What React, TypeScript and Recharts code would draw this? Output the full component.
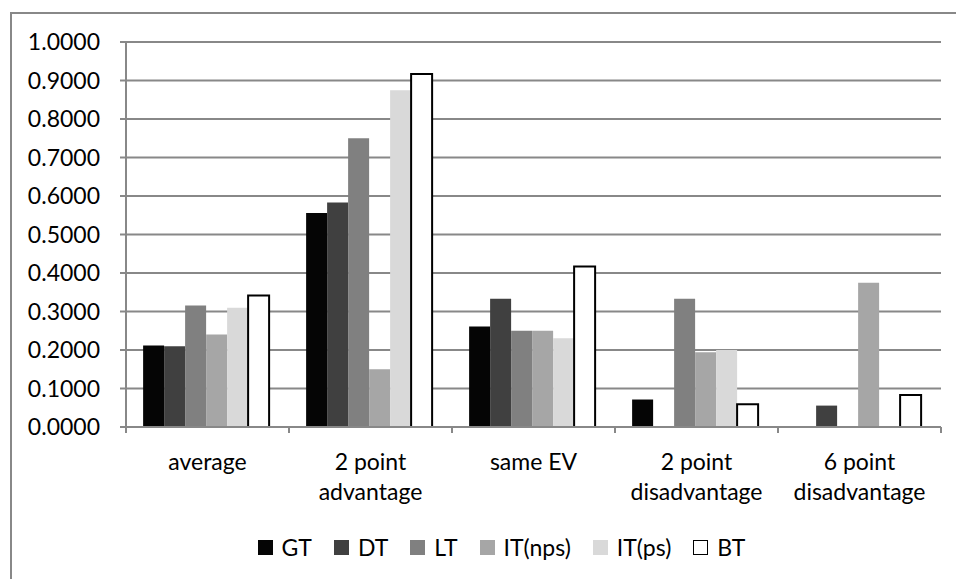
import { BarChart, Bar, XAxis, YAxis, CartesianGrid, Legend } from "recharts";

const categories = ["average", "2 point\nadvantage", "same EV", "2 point\ndisadvantage", "6 point\ndisadvantage"];
const gt = [0.2115, 0.5556, 0.2609, 0.0714, 0];
const dt = [0.2100, 0.5833, 0.3333, 0, 0.0556];
const lt = [0.3158, 0.7500, 0.2500, 0.3333, 0];
const itNps = [0.2404, 0.1500, 0.2500, 0.1944, 0.3750];
const itPs = [0.3100, 0.8750, 0.2308, 0.2000, 0];
const bt = [0.3417, 0.9167, 0.4167, 0.0588, 0.0833];
const yTicks = [0, 0.1, 0.2, 0.3, 0.4, 0.5, 0.6, 0.7, 0.8, 0.9, 1.0];

const series = [
    { key: "GT", values: gt, fill: "#050505", stroke: "none" },
    { key: "DT", values: dt, fill: "#404040", stroke: "none" },
    { key: "LT", values: lt, fill: "#808080", stroke: "none" },
    { key: "IT(nps)", values: itNps, fill: "#a6a6a6", stroke: "none" },
    { key: "IT(ps)", values: itPs, fill: "#d9d9d9", stroke: "none" },
    { key: "BT", values: bt, fill: "#ffffff", stroke: "#000000" },
];

const data = categories.map((name, i) => {
    const row: Record<string, string | number> = { name };
    series.forEach((s) => (row[s.key] = s.values[i]));
    return row;
});

const FONT = "Lato, 'Open Sans', sans-serif";
const GRID = "#888888";

const CategoryTick = (props: any) => {
    const { x, y, payload, index, visibleTicksCount } = props;
    const half = payload.offset || 81.5;
    const lines = String(payload.value).split("\n");
    return (
        <g>
            <line x1={x - half} x2={x - half} y1={y - 8} y2={y - 2} stroke={GRID} strokeWidth={2} />
            {index === visibleTicksCount - 1 && (
                <line x1={x + half} x2={x + half} y1={y - 8} y2={y - 2} stroke={GRID} strokeWidth={2} />
            )}
            <text x={x} y={y} textAnchor="middle" fontSize={23} fill="#000" fontFamily={FONT}>
                {lines.map((l, i) => (
                    <tspan key={i} x={x} dy={i === 0 ? 35 : 30}>
                        {l}
                    </tspan>
                ))}
            </text>
        </g>
    );
};

const LegendContent = () => (
    <div
        style={{
            display: "flex",
            justifyContent: "center",
            alignItems: "center",
            height: 40,
            paddingLeft: 62,
            fontFamily: FONT,
            fontSize: 23,
        }}
    >
        {series.map((s) => (
            <div key={s.key} style={{ display: "flex", alignItems: "center", margin: "0 11px" }}>
                <span
                    style={{
                        display: "inline-block",
                        width: s.stroke === "none" ? 15 : 13,
                        height: s.stroke === "none" ? 15 : 13,
                        background: s.fill,
                        border: s.stroke === "none" ? "none" : "1px solid #000",
                        marginRight: 9,
                    }}
                />
                <span>{s.key}</span>
            </div>
        ))}
    </div>
);

const App = () => {
    return (
        <div style={{ position: "absolute", left: 0, top: 0, width: 956, height: 579, overflow: "hidden", background: "#fff" }}>
            <div
                style={{
                    position: "absolute",
                    left: 10,
                    top: 12,
                    width: 960,
                    height: 600,
                    borderLeft: `2px solid ${GRID}`,
                    borderTop: `2px solid ${GRID}`,
                    boxSizing: "border-box",
                }}
            />
            <div style={{ position: "absolute", left: 0, top: 0 }}>
                <BarChart
                    width={956}
                    height={579}
                    data={data}
                    margin={{ top: 42, right: 15, bottom: 12, left: 0 }}
                    barCategoryGap="10.5%"
                    barGap={0}
                >
                    <CartesianGrid vertical={false} stroke={GRID} strokeWidth={2} />
                    <XAxis
                        dataKey="name"
                        height={100}
                        axisLine={{ stroke: GRID, strokeWidth: 2 }}
                        tickLine={false}
                        interval={0}
                        tick={<CategoryTick />}
                    />
                    <YAxis
                        width={126}
                        domain={[0, 1]}
                        ticks={yTicks}
                        interval={0}
                        axisLine={{ stroke: GRID, strokeWidth: 2 }}
                        tickLine={{ stroke: GRID, strokeWidth: 2 }}
                        tickSize={6}
                        tickMargin={20}
                        tick={{ fill: "#000", fontSize: 23, fontFamily: FONT }}
                        tickFormatter={(v: number) => v.toFixed(4)}
                    />
                    <Legend verticalAlign="bottom" height={40} content={<LegendContent />} />
                    {series.map((s) => (
                        <Bar
                            key={s.key}
                            dataKey={s.key}
                            fill={s.fill}
                            stroke={s.stroke}
                            strokeWidth={s.stroke === "none" ? 0 : 2}
                            isAnimationActive={false}
                        />
                    ))}
                </BarChart>
            </div>
        </div>
    );
};

export default App;
